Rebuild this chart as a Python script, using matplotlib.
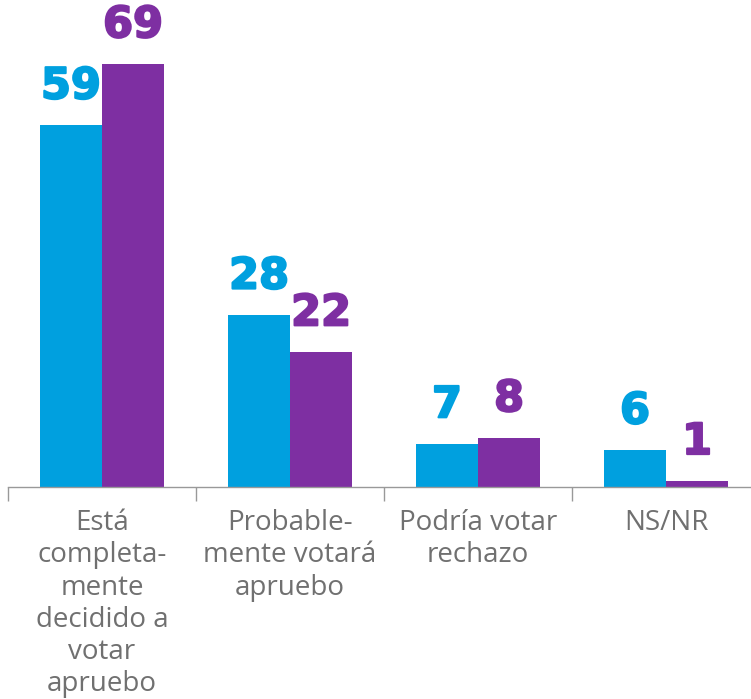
import matplotlib
matplotlib.use("Agg")
import matplotlib.pyplot as plt
import matplotlib.patheffects as pe
import numpy as np

categories = ["Está\ncompleta-\nmente\ndecidido a\nvotar\napruebo",
              "Probable-\nmente votará\napruebo",
              "Podría votar\nrechazo",
              "NS/NR"]
series_a = [59, 28, 7, 6]
series_b = [69, 22, 8, 1]
color_a = "#00A0DF"
color_b = "#7E2FA2"

fig = plt.figure(figsize=(7.51, 6.99), dpi=100)
ax = fig.add_axes([8/751, 212/699, 752/751, 487/699])

x = np.arange(len(categories))
w = 0.33
ax.bar(x - w/2, series_a, width=w, color=color_a)
ax.bar(x + w/2, series_b, width=w, color=color_b)

for xi, v in zip(x, series_a):
    ax.text(xi - w/2, v + 2.9, str(v), ha="center", va="bottom", color=color_a,
            fontsize=31, fontweight="bold", family="DejaVu Sans",
            path_effects=[pe.withStroke(linewidth=1.5, foreground=color_a)])
for xi, v in zip(x, series_b):
    ax.text(xi + w/2, v + 2.9, str(v), ha="center", va="bottom", color=color_b,
            fontsize=31, fontweight="bold", family="DejaVu Sans",
            path_effects=[pe.withStroke(linewidth=1.5, foreground=color_b)])

ax.set_xlim(-0.5, len(categories) - 0.5)
ax.set_ylim(0, 487/6.13)
for s in ["top", "right", "left"]:
    ax.spines[s].set_visible(False)
ax.spines["bottom"].set_color("#999999")
ax.spines["bottom"].set_linewidth(1)
ax.set_yticks([])
ax.set_xticks(np.arange(len(categories) + 1) - 0.5)
ax.set_xticklabels([])
ax.tick_params(axis="x", which="major", length=10, color="#999999", width=1)
ax.set_xticks(x, minor=True)
ax.set_xticklabels(categories, minor=True, fontsize=20, color="#707070",
                   family="Open Sans", linespacing=1.2)
ax.tick_params(axis="x", which="minor", length=0, pad=16)

fig.savefig("out.png", dpi=100)
